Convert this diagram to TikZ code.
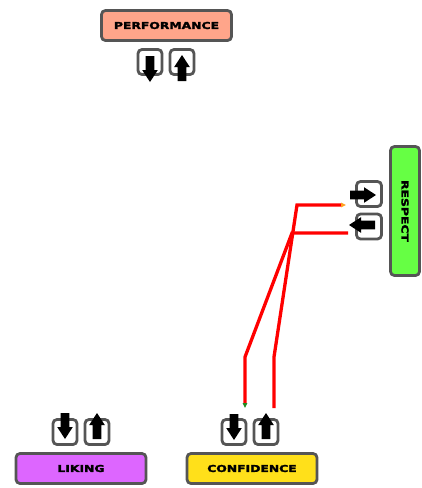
\documentclass[tikz,border=0pt]{standalone}
\usepackage{fontspec}
\usetikzlibrary{arrows.meta}
\newfontfamily\lbl{DejaVu Sans}[UprightFont={* Bold},FakeStretch=1.3,FakeBold=2.5]
\definecolor{boxgray}{HTML}{555555}
\definecolor{perfc}{HTML}{FFA58A}
\definecolor{likec}{HTML}{DD66FF}
\definecolor{confc}{HTML}{FFE01A}
\definecolor{respc}{HTML}{66FF44}
\definecolor{wirered}{HTML}{FF0000}
\definecolor{tiporange}{HTML}{FFA020}
\definecolor{tipgreen}{HTML}{228B22}
\begin{document}
\begin{tikzpicture}[x=1pt,y=-1pt,
  box/.style={draw=boxgray,line width=2.8pt,rounded corners=4pt,inner sep=0pt,
    font={\lbl\fontsize{9.5}{10}\selectfont}},
  port/.style={draw=boxgray,line width=2.8pt,rounded corners=4pt,fill=white,
    minimum width=24pt,minimum height=25pt,inner sep=0pt},
  wire/.style={draw=wirered,line width=3.3pt,miter limit=20},
  barrow/.pic={\fill[black] (0,-4.3) -- (14,-4.3) -- (14,-7.8) -- (26,0) -- (14,7.8) -- (14,4.3) -- (0,4.3) -- cycle;}
]
\useasboundingbox (0,0) rectangle (422,488);
% main boxes
\node[box,fill=perfc,minimum width=130pt,minimum height=30pt] (perf) at (166.5,25.5) {PERFORMANCE};
\node[box,fill=likec,minimum width=130pt,minimum height=30pt] (liking) at (81,468.5) {LIKING};
\node[box,fill=confc,minimum width=130pt,minimum height=30pt] (conf) at (252,468.5) {CONFIDENCE};
\node[box,fill=respc,rotate=-90,minimum width=129pt,minimum height=29pt] (respect) at (405,211) {RESPECT};
% ports
\node[port] (pd) at (150,62) {};
\node[port] (pu) at (182,62) {};
\node[port] (ld) at (65,432) {};
\node[port] (lu) at (97,432) {};
\node[port] (cd) at (234,432) {};
\node[port] (cu) at (266,432) {};
\node[port,minimum width=25pt] (rin) at (369,194) {};
\node[port,minimum width=25pt] (rout) at (369,226.5) {};
% port arrows
\pic[rotate=-90] at (150,56) {barrow};
\pic[rotate=90] at (182,81) {barrow};
\pic[rotate=-90] at (65,413) {barrow};
\pic[rotate=90] at (97,439) {barrow};
\pic[rotate=-90] at (234,414) {barrow};
\pic[rotate=90] at (266,439) {barrow};
\pic at (350,195) {barrow};
\pic[rotate=180] at (375,225) {barrow};
% wire end points
\coordinate (w1s) at (274,408);
\coordinate (w1e) at (346,205);
\coordinate (w2s) at (348,233);
\coordinate (w2e) at (245,408);
% wires
\draw[wire,-{Triangle[length=5pt,width=4.5pt,color=tiporange]}]
  (w1s) -- (274,357) -- (297,205) -- (w1e);
\draw[wire,-{Triangle[length=5pt,width=4.5pt,color=tipgreen]}]
  (w2s) -- (292,233) -- (245,357) -- (w2e);
\end{tikzpicture}
\end{document}
